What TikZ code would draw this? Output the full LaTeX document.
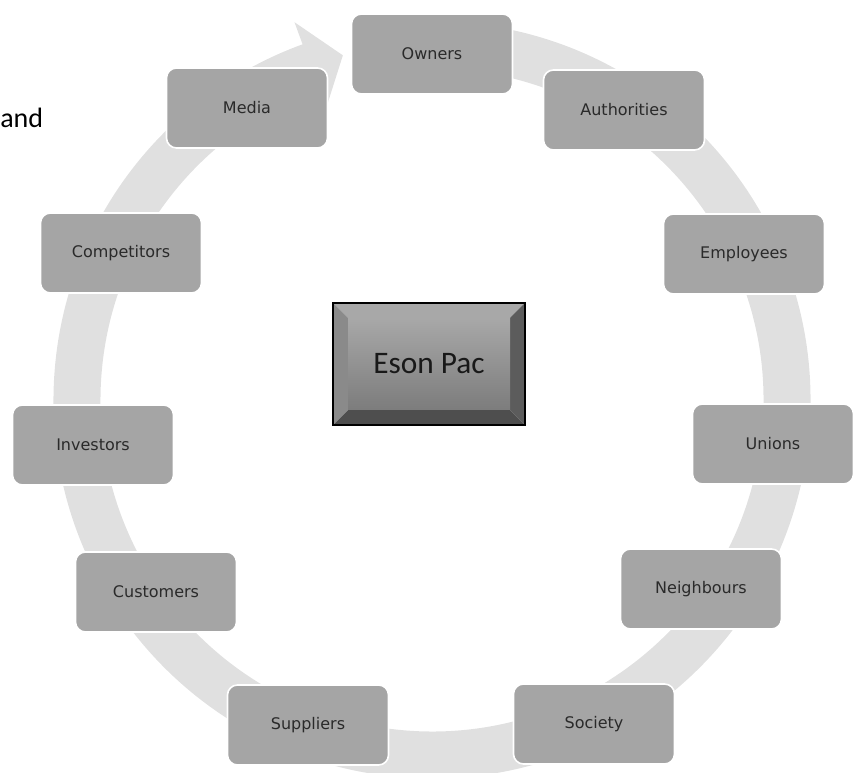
\documentclass[tikz,border=0pt]{standalone}
\usepackage{fontspec}
\setmainfont{DejaVu Sans}
\newfontfamily\calib{Carlito}
\definecolor{boxgray}{HTML}{A5A5A5}
\definecolor{ringgray}{HTML}{E0E0E0}
\definecolor{txtgray}{HTML}{2A2A2A}
\definecolor{bevtop}{HTML}{A8A8A8}
\definecolor{bevleft}{HTML}{8A8A8A}
\definecolor{bevright}{HTML}{5C5C5C}
\definecolor{bevbot}{HTML}{4E4E4E}
\begin{document}
\begin{tikzpicture}[x=0.75pt,y=0.75pt,
  stake/.style={draw=white, line width=1.2pt, fill=boxgray, rounded corners=7.5pt,
    minimum width=120.75pt, minimum height=60pt, inner sep=0pt,
    font=\fontsize{12}{14}\selectfont, text=txtgray},
  ringband/.style={draw=ringgray, line width=35.25pt},
  ringhead/.style={fill=ringgray}]
\useasboundingbox (0,0) rectangle (856,773);
% ring arrow
\coordinate (c) at (432,373);
\draw[ringband] ([shift={(84:355)}]c) arc[start angle=84, end angle=-250.5, radius=355];
\fill[ringhead] ([shift={(110:402)}]c) -- ([shift={(104.5:356)}]c) -- ([shift={(110:310)}]c) -- cycle;
% stakeholder boxes
\node[stake] (owners) at (432,719) {Owners};
\node[stake] (authorities) at (624,663) {Authorities};
\node[stake] (employees) at (744,519) {Employees};
\node[stake] (unions) at (773,329) {Unions};
\node[stake] (neighbours) at (701,184) {Neighbours};
\node[stake] (society) at (594,49) {Society};
\node[stake] (suppliers) at (308,48) {Suppliers};
\node[stake] (customers) at (156,181) {Customers};
\node[stake] (investors) at (93,328) {Investors};
\node[stake] (competitors) at (121,520) {Competitors};
\node[stake] (media) at (247,665) {Media};
% central bevelled box
\fill[bevtop] (333,470) -- (525,470) -- (510,455) -- (348,455) -- cycle;
\fill[bevbot] (333,348) -- (525,348) -- (510,363) -- (348,363) -- cycle;
\fill[bevleft] (333,348) -- (348,363) -- (348,455) -- (333,470) -- cycle;
\fill[bevright] (525,348) -- (510,363) -- (510,455) -- (525,470) -- cycle;
\shade[top color=bevtop, bottom color=bevleft!90!black] (348,363) rectangle (510,455);
\draw[black, line width=1.2pt] (333,348) rectangle (525,470);
\node[inner sep=0pt, text=black!90, font=\calib\fontsize{23.5}{28}\selectfont] (eson) at (429,409) {Eson Pac};
% stray text
\node[anchor=base west, inner sep=0pt, font=\calib\fontsize{21}{25}\selectfont] (andtxt) at (0,645) {and};
\end{tikzpicture}
\end{document}
